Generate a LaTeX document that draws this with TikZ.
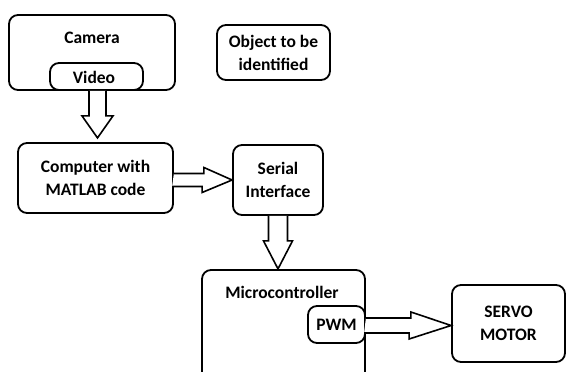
\documentclass[tikz,border=0pt]{standalone}
\usepackage{fontspec}
\setmainfont{Carlito}
\usetikzlibrary{calc}
\tikzset{
  box/.style={draw, line width=1.8pt, rounded corners=9pt, fill=white, inner sep=0pt},
  txt/.style={font=\bfseries\fontsize{17.5}{23}\selectfont, align=center, inner sep=0pt},
  blockarrow/.style={draw, line width=1.6pt, fill=white, line join=miter},
}
\begin{document}
\begin{tikzpicture}[x=1pt,y=-1pt]
\clip (0,0) rectangle (566,372);
\fill[white] (0,0) rectangle (566,372);
% boxes
\node[box, minimum width=166pt, minimum height=75pt] (camera) at (92,52.5) {};
\node[txt] (cameralbl) at (92,38) {Camera};
\node[box, minimum width=93pt, minimum height=27pt] (video) at (96.5,76.5) {};
\node[txt] (videolbl) at (94,77) {Video};
\node[box, txt, minimum width=113pt, minimum height=55pt] (object) at (273.5,52.5) {Object to be\\identified};
\node[box, txt, minimum width=155pt, minimum height=70pt] (computer) at (95.5,178) {Computer with\\MATLAB code};
\node[box, txt, minimum width=90pt, minimum height=70pt] (serial) at (278,180) {Serial\\Interface};
\node[box, minimum width=163pt, minimum height=125pt] (micro) at (283.5,332.5) {};
\node[txt] (microlbl) at (282,292) {Microcontroller};
\node[box, txt, minimum width=57pt, minimum height=37pt] (pwm) at (336.5,324.5) {PWM};
\node[box, txt, minimum width=113pt, minimum height=77pt] (servo) at (508.5,323.5) {SERVO\\MOTOR};
% block arrows
\coordinate (a1s) at ($(video.south)+(1,0)$);
\draw[blockarrow] ($(a1s)+(-8.5,0)$) -- ++(0,25) -- ++(-7,0) -- ++(15.5,22) -- ++(15.5,-22) -- ++(-7,0) -- ++(0,-25);
\coordinate (a2s) at (computer.east |- serial.west);
\draw[blockarrow] ($(a2s)+(0,-6.5)$) -- ++(30,0) -- ++(0,-6) -- (serial.west) -- ++(-30,12.5) -- ++(0,-6) -- ++(-30,0);
\draw[blockarrow] ($(serial.south)+(-9.5,0)$) -- ++(0,25) -- ++(-5,0) -- ++(14.5,28) -- ++(14.5,-28) -- ++(-5,0) -- ++(0,-25);
\coordinate (a4s) at ($(pwm.east)+(0,1)$);
\draw[blockarrow] ($(a4s)+(0,-7.5)$) -- ++(45,0) -- ++(0,-6) -- ($(servo.west)+(0,2)$) -- ++(-42,13.5) -- ++(0,-6) -- ++(-45,0);
\end{tikzpicture}
\end{document}
